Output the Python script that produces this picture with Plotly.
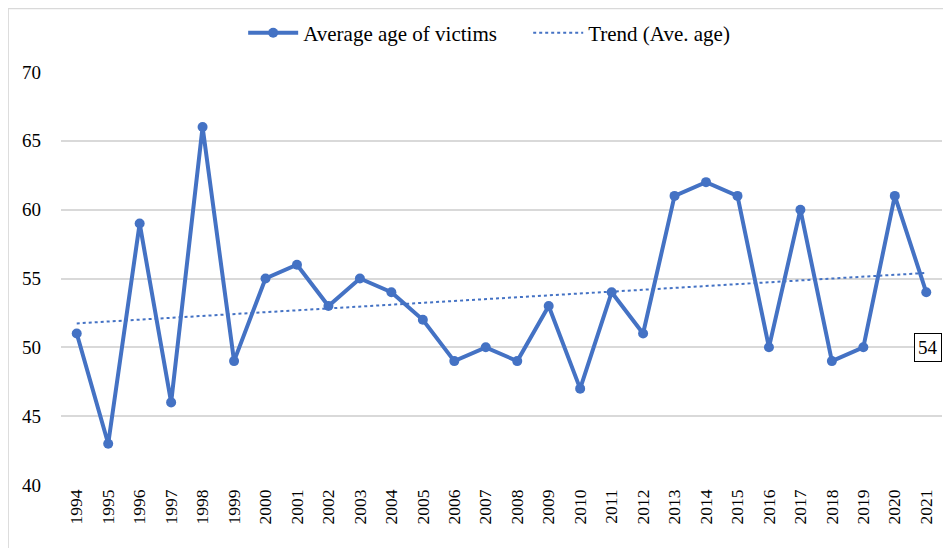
import numpy as np
import plotly.graph_objects as go

years = [str(y) for y in range(1994, 2022)]
avg_age = [51, 43, 59, 46, 66, 49, 55, 56, 53, 55, 54, 52, 49, 50, 49, 53, 47, 54, 51,
           61, 62, 61, 50, 60, 49, 50, 61, 54]
y_ticks = [40, 45, 50, 55, 60, 65, 70]

idx = np.arange(len(avg_age))
slope, intercept = np.polyfit(idx, avg_age, 1)
trend = list(slope * idx + intercept)

color = "#4472C4"
font = "'Times New Roman', 'Liberation Serif', 'DejaVu Serif', serif"

fig = go.Figure()
fig.add_trace(go.Scatter(x=years, y=avg_age, mode="lines+markers",
                         name="Average age of victims" + "\u00a0" * 5,
                         line=dict(color=color, width=4), marker=dict(color=color, size=10)))
fig.add_trace(go.Scatter(x=years, y=trend, mode="lines", name="Trend (Ave. age)",
                         line=dict(color=color, width=2, dash="dot")))

fig.add_annotation(x=len(years) - 1, y=avg_age[-1], text="54", showarrow=False,
                   xshift=2, yshift=-55, xanchor="center", yanchor="middle",
                   bordercolor="black", borderwidth=1, bgcolor="white",
                   font=dict(family=font, size=19, color="black"), borderpad=3)

fig.add_shape(type="rect", xref="paper", yref="paper", x0=-0.06, x1=1.03, y0=-0.2, y1=1.154,
              line=dict(color="#d9d9d9", width=1.5), fillcolor="rgba(0,0,0,0)", layer="below")

# page body has an 8px margin, so the figure is placed at (8, 8)
fig.update_layout(
    width=943, height=540,
    margin=dict(l=53, r=9, t=64, b=63, autoexpand=False),
    paper_bgcolor="white", plot_bgcolor="white",
    font=dict(family=font, size=17, color="black"),
    showlegend=True,
    legend=dict(orientation="h", x=0.486, xanchor="center", y=1.094, yanchor="middle",
                font=dict(family=font, size=21, color="black"), itemwidth=50),
    xaxis=dict(type="category", tickangle=-90, showgrid=False, showline=False, ticks="",
               tickfont=dict(family=font, size=17.5), range=[-0.5, len(years) - 0.5]),
    yaxis=dict(range=[40, 70], tickvals=y_ticks, showgrid=True, gridcolor="#d9d9d9", gridwidth=1.5,
               zeroline=False, showline=False, ticks="", tickfont=dict(family=font, size=19),
               ticklabelstandoff=19),
)
fig.write_html("out.html")
